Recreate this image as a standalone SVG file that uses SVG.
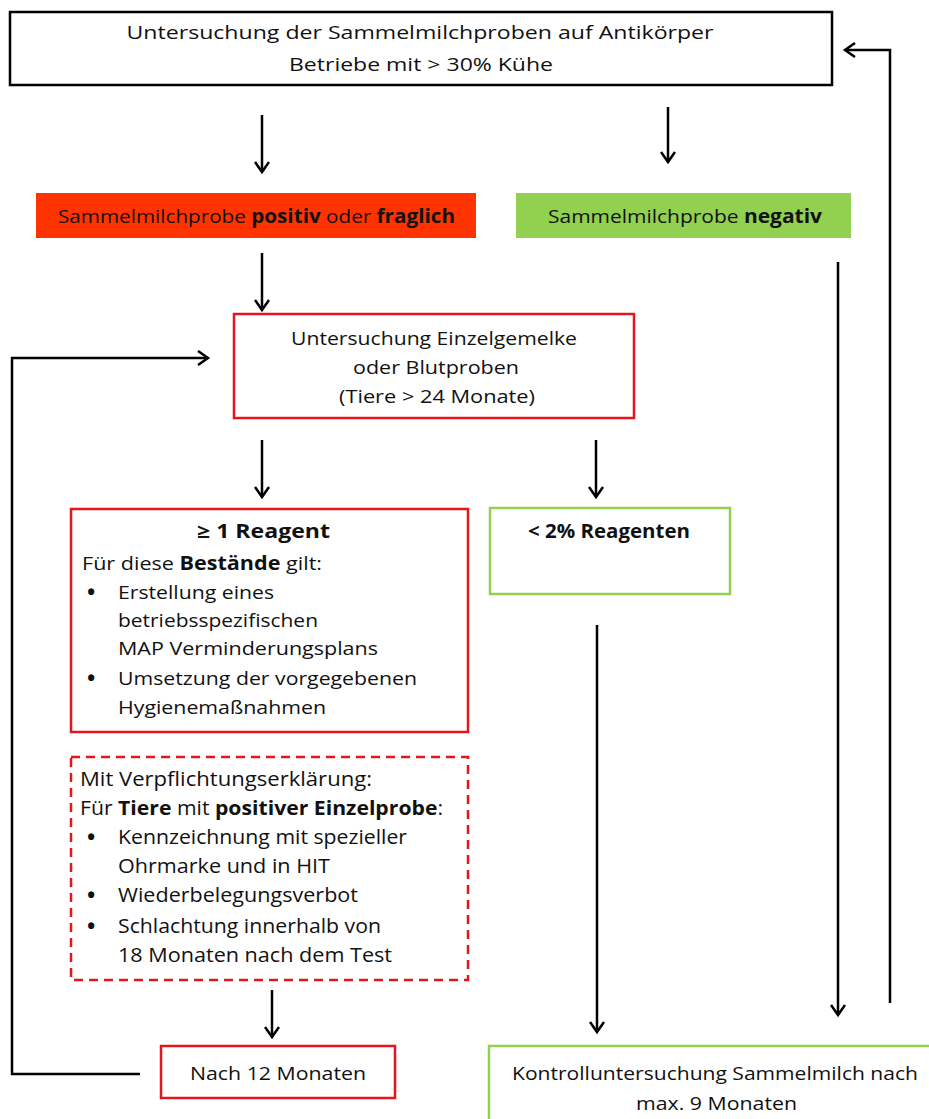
<svg xmlns="http://www.w3.org/2000/svg" width="929" height="1119" viewBox="0 0 929 1119">
<defs>
<style>
text{font-family:"Open Sans","Noto Sans","Liberation Sans",sans-serif;font-size:19px;fill:#111;}
.c{text-anchor:middle;}
.b{font-weight:bold;}
.l{font-size:20px;}
.bu{font-size:22px;font-weight:bold;}
.con{fill:none;stroke:#000;stroke-width:2.5;}
.rb{fill:#fff;stroke:#E3161B;stroke-width:2.5;}
.gb{fill:#fff;stroke:#92D050;stroke-width:2.5;}
</style>
<marker id="ah" markerUnits="userSpaceOnUse" markerWidth="16" markerHeight="16" refX="12" refY="8" orient="auto">
<path d="M2,1 L12,8 L2,15" fill="none" stroke="#000" stroke-width="2.5"/>
</marker>
</defs>
<rect width="929" height="1119" fill="#fff"/>
<g id="connectors">
<line class="con" x1="262" y1="115" x2="262" y2="172" marker-end="url(#ah)"/>
<line class="con" x1="668" y1="107" x2="668" y2="162" marker-end="url(#ah)"/>
<line class="con" x1="262" y1="253" x2="262" y2="310" marker-end="url(#ah)"/>
<line class="con" x1="262" y1="440" x2="262" y2="497" marker-end="url(#ah)"/>
<line class="con" x1="596" y1="440" x2="596" y2="497" marker-end="url(#ah)"/>
<line class="con" x1="838" y1="262" x2="838" y2="1015" marker-end="url(#ah)"/>
<line class="con" x1="597" y1="625" x2="597" y2="1032" marker-end="url(#ah)"/>
<line class="con" x1="272" y1="990" x2="272" y2="1037" marker-end="url(#ah)"/>
<polyline class="con" points="140,1074 12,1074 12,358 208,358" marker-end="url(#ah)"/>
<polyline class="con" points="890,1003 890,50 845,50" marker-end="url(#ah)"/>
</g>
<g id="top">
<rect x="10" y="12" width="822" height="73" fill="#fff" stroke="#000" stroke-width="2.5"/>
<text class="c" x="420" y="39" textLength="587" lengthAdjust="spacingAndGlyphs">Untersuchung der Sammelmilchproben auf Antikörper</text>
<text class="c" x="421" y="71" textLength="264" lengthAdjust="spacingAndGlyphs">Betriebe mit &gt; 30% Kühe</text>
</g>
<g id="positiv">
<rect x="36" y="193" width="440" height="45" fill="#FF3300"/>
<text x="58" y="223" textLength="397" lengthAdjust="spacingAndGlyphs">Sammelmilchprobe <tspan class="b">positiv</tspan> oder <tspan class="b">fraglich</tspan></text>
</g>
<g id="negativ">
<rect x="516" y="193" width="335" height="45" fill="#92D050"/>
<text x="548" y="223" textLength="274" lengthAdjust="spacingAndGlyphs">Sammelmilchprobe <tspan class="b">negativ</tspan></text>
</g>
<g id="einzel">
<rect class="rb" x="234" y="314" width="400" height="104"/>
<text class="c" x="434" y="345" textLength="286" lengthAdjust="spacingAndGlyphs">Untersuchung Einzelgemelke</text>
<text class="c" x="436" y="374" textLength="166" lengthAdjust="spacingAndGlyphs">oder Blutproben</text>
<text class="c" x="437" y="403" textLength="196" lengthAdjust="spacingAndGlyphs">(Tiere &gt; 24 Monate)</text>
</g>
<g id="reagent">
<rect class="rb" x="71" y="509" width="397" height="223"/>
<text class="b" x="197" y="538" textLength="133" lengthAdjust="spacingAndGlyphs">≥ 1 Reagent</text>
<text x="82" y="570" textLength="240" lengthAdjust="spacingAndGlyphs">Für diese <tspan class="b">Bestände</tspan> gilt:</text>
<text class="bu" x="87" y="600">•</text>
<text x="118" y="599" textLength="156" lengthAdjust="spacingAndGlyphs">Erstellung eines</text>
<text x="118" y="627" textLength="200" lengthAdjust="spacingAndGlyphs">betriebsspezifischen</text>
<text x="118" y="655" textLength="260" lengthAdjust="spacingAndGlyphs">MAP Verminderungsplans</text>
<text class="bu" x="87" y="686">•</text>
<text x="118" y="685" textLength="299" lengthAdjust="spacingAndGlyphs">Umsetzung der vorgegebenen</text>
<text x="118" y="714" textLength="208" lengthAdjust="spacingAndGlyphs">Hygienemaßnahmen</text>
</g>
<g id="lt2">
<rect class="gb" x="490" y="508" width="240" height="86"/>
<text class="b" x="528" y="538" textLength="162" lengthAdjust="spacingAndGlyphs">&lt; 2% Reagenten</text>
</g>
<g id="verpflichtung">
<rect x="71" y="757" width="397" height="223" fill="#fff" stroke="#E3161B" stroke-width="2.5" stroke-dasharray="9,6"/>
<text class="l" x="80" y="786" textLength="292" lengthAdjust="spacingAndGlyphs">Mit Verpflichtungserklärung:</text>
<text class="l" x="80" y="815" textLength="363" lengthAdjust="spacingAndGlyphs">Für <tspan class="b">Tiere</tspan> mit <tspan class="b">positiver Einzelprobe</tspan>:</text>
<text class="bu" x="87" y="845">•</text>
<text class="l" x="118" y="844" textLength="289" lengthAdjust="spacingAndGlyphs">Kennzeichnung mit spezieller</text>
<text class="l" x="118" y="873" textLength="212" lengthAdjust="spacingAndGlyphs">Ohrmarke und in HIT</text>
<text class="bu" x="87" y="903">•</text>
<text class="l" x="118" y="902" textLength="240" lengthAdjust="spacingAndGlyphs">Wiederbelegungsverbot</text>
<text class="bu" x="87" y="934">•</text>
<text class="l" x="118" y="933" textLength="263" lengthAdjust="spacingAndGlyphs">Schlachtung innerhalb von</text>
<text class="l" x="118" y="962" textLength="274" lengthAdjust="spacingAndGlyphs">18 Monaten nach dem Test</text>
</g>
<g id="nach12">
<rect class="rb" x="161" y="1046" width="234" height="52"/>
<text x="190" y="1080" textLength="176" lengthAdjust="spacingAndGlyphs">Nach 12 Monaten</text>
</g>
<g id="kontrolle">
<rect class="gb" x="489" y="1046" width="470" height="100"/>
<text x="512" y="1080" textLength="406" lengthAdjust="spacingAndGlyphs">Kontrolluntersuchung Sammelmilch nach</text>
<text x="636" y="1110" textLength="161" lengthAdjust="spacingAndGlyphs">max. 9 Monaten</text>
</g>
</svg>
